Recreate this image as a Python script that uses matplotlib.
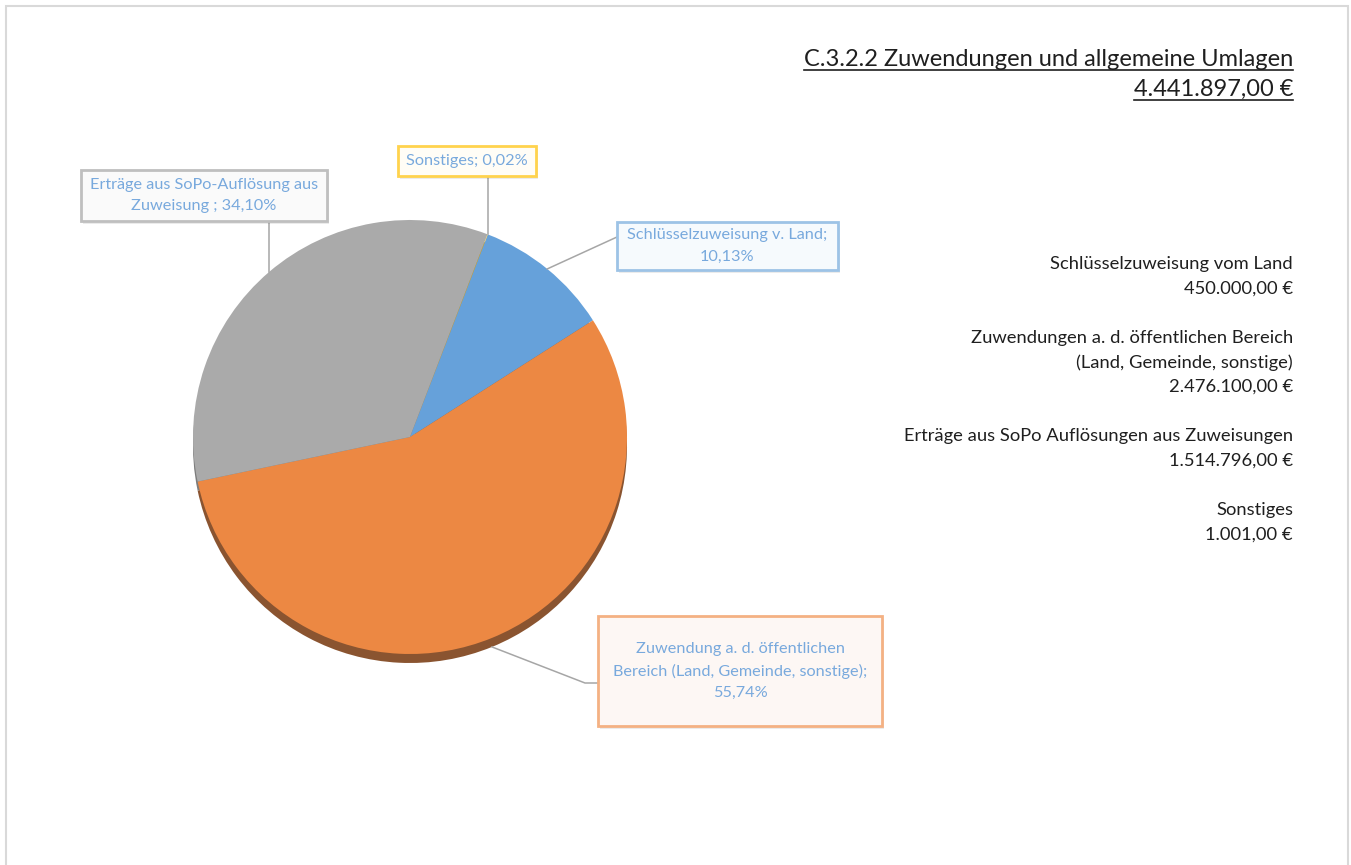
import numpy as np
import matplotlib.pyplot as plt
from matplotlib.patches import Rectangle

# data
labels = ["Schlüsselzuweisung v. Land", "Zuwendung a. d. öffentlichen\nBereich (Land, Gemeinde, sonstige)",
          "Erträge aus SoPo-Auflösung aus\nZuweisung ", "Sonstiges"]
amounts = [450000.00, 2476100.00, 1514796.00, 1001.00]
pct_labels = ["10,13%", "55,74%", "34,10%", "0,02%"]
label_seps = [";\n", ";\n", "; ", "; "]
colors = ["#66A1DA", "#EC8843", "#AAAAAA", "#FFC000"]
shadow_colors = ["#3E6C97", "#8A5430", "#7C7C7C", "#B08500"]
box_edges = ["#9DC3E6", "#F4B183", "#BFBFBF", "#FFD34D"]
box_faces = ["#F6FAFD", "#FDF7F4", "#FAFAFA", "#FFFDF6"]

title = "C.3.2.2 Zuwendungen und allgemeine Umlagen"
total_label = "4.441.897,00 €"
side_blocks = [["Schlüsselzuweisung vom Land", "450.000,00 €"],
               ["Zuwendungen a. d. öffentlichen Bereich", "(Land, Gemeinde, sonstige)", "2.476.100,00 €"],
               ["Erträge aus SoPo Auflösungen aus Zuweisungen", "1.514.796,00 €"],
               ["Sonstiges", "1.001,00 €"]]

W, H = 1351, 865
plt.rcParams['font.family'] = ['Lato', 'DejaVu Sans']
fig = plt.figure(figsize=(W / 100, H / 100), dpi=100)
ax = fig.add_axes([0, 0, 1, 1])


def py(y):
    # pixel row (top-down) -> data y
    return H - y


cx, cy, r = 410, py(437), 217
depth = 9

# extruded side of the pie
ax.pie(amounts, colors=shadow_colors, startangle=69, counterclock=False,
       center=(cx, cy - depth), radius=r, wedgeprops=dict(linewidth=0))
wedges, _ = ax.pie(amounts, colors=colors, startangle=69, counterclock=False,
                   center=(cx, cy), radius=r, wedgeprops=dict(linewidth=0))
ax.set_xlim(0, W)
ax.set_ylim(0, H)
ax.set_aspect('equal')
ax.axis('off')

# label boxes (x0, top, x1, bottom in pixels)
boxes = [(617, 222, 838, 270), (598, 616, 882, 726), (81, 170, 327, 221), (398, 146, 536, 176)]
text_col = "#78A9DD"
line_col = "#A6A6A6"

for i, w in enumerate(wedges):
    x0, t, x1, b = boxes[i]
    # soft shadow + box
    ax.add_patch(Rectangle((x0 + 2, py(b) - 3), x1 - x0, b - t, facecolor='#000000',
                           alpha=0.08, linewidth=0, zorder=4))
    ax.add_patch(Rectangle((x0, py(b)), x1 - x0, b - t, facecolor=box_faces[i],
                           edgecolor=box_edges[i], linewidth=2, zorder=5))
    ax.text((x0 + x1) / 2, py((t + b) / 2), labels[i] + label_seps[i] + pct_labels[i],
            ha='center', va='center', fontsize=11.7, color=text_col, linespacing=1.65, zorder=6)

    # leader line from mid-angle edge point
    ang = np.deg2rad((w.theta1 + w.theta2) / 2)
    ex, ey = cx + r * np.cos(ang), cy + r * np.sin(ang)
    if i == 0:
        xs, ys = [ex, x0], [ey, py(237)]
    elif i == 1:
        xs, ys = [ex, x0 - 13, x0], [ey - depth, py(683), py(683)]
    else:
        xs, ys = [ex, ex], [ey, py(b)]
    ax.plot(xs, ys, color=line_col, linewidth=1.1, zorder=3)

# title with underline
rx = 1293
t1 = ax.text(rx, py(66), title, ha='right', va='baseline', fontsize=17, color='#1F1F1F')
t2 = ax.text(rx, py(96), total_label, ha='right', va='baseline', fontsize=17, color='#1F1F1F')
fig.canvas.draw()
inv = ax.transData.inverted()
for t, base in [(t1, 66), (t2, 96)]:
    bb = t.get_window_extent()
    xa = inv.transform((bb.x0, 0))[0]
    xb = inv.transform((bb.x1, 0))[0]
    ax.plot([xa, xb], [py(base + 4), py(base + 4)], color='#1F1F1F', linewidth=1.2)

# side text
y = 264
step = 24.6
for block in side_blocks:
    for line in block:
        ax.text(rx, py(y), line, ha='right', va='center', fontsize=13.2, color='#1F1F1F')
        y += step
    y += step

# light frame around the chart area
fig.patches.append(Rectangle((6 / W, -0.01), (1348 - 6) / W, (H - 6) / H + 0.01,
                             transform=fig.transFigure, fill=False,
                             edgecolor='#D9D9D9', linewidth=1.5))

fig.savefig("out.png", dpi=100)
